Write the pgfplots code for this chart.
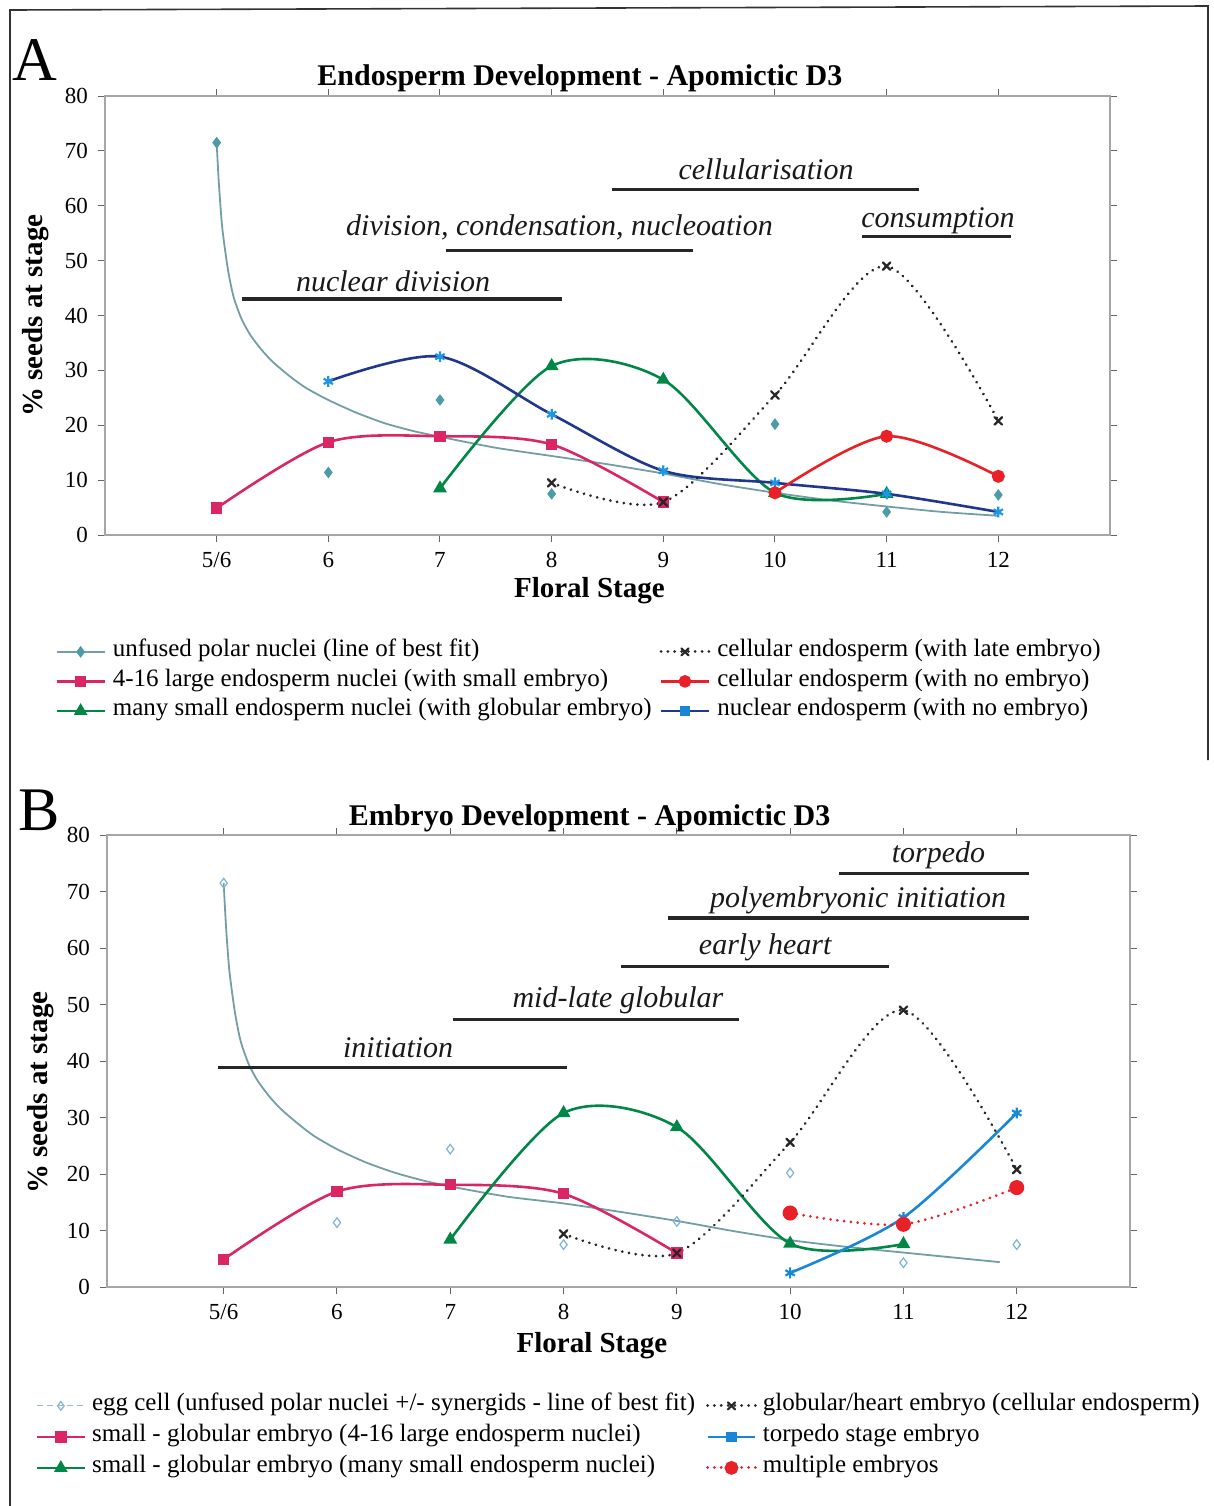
\documentclass[border=0pt]{standalone}
\usepackage{fontspec}
\setmainfont{Liberation Serif}
\usepackage{pgfplots}
\pgfplotsset{compat=1.18}
\usetikzlibrary{plotmarks}
\definecolor{fitc}{RGB}{115,158,165}
\definecolor{polarc}{RGB}{75,155,168}
\definecolor{eggc}{RGB}{125,180,215}
\definecolor{crim}{RGB}{218,38,100}
\definecolor{grn}{RGB}{0,135,70}
\definecolor{navy}{RGB}{32,55,140}
\definecolor{lblue}{RGB}{30,150,230}
\definecolor{redc}{RGB}{232,32,40}
\definecolor{torp}{RGB}{25,135,215}
\tikzset{
  dots/.style={line width=1.5pt, dash pattern=on 0.01pt off 3.4pt, line cap=round},
  anno/.style={font=\itshape\fontsize{15}{17}\selectfont, text=black!90, inner sep=0pt},
  bar/.style={line width=1.6pt, black!85},
}
\pgfplotsset{
  panel/.style={
    scale only axis, xmin=-1, xmax=8, ymin=0, ymax=80,
    xtick={0,...,7}, xticklabels={5/6,6,7,8,9,10,11,12},
    ytick={0,10,...,80},
    tick align=outside, major tick length=3.5pt,
    tick style={gray!80!black, line width=0.5pt},
    axis line style={gray!70, line width=0.7pt},
    ticklabel style={font=\fontsize{11.5}{12}\selectfont},
    /pgf/number format/assume math mode=true,
    xticklabel style={yshift=-1.8pt},
    yticklabel style={xshift=-1.5pt},
    clip=false,
    title style={font=\bfseries\fontsize{15}{17}\selectfont},
    xlabel style={font=\bfseries\fontsize{14.5}{16}\selectfont},
    ylabel style={font=\bfseries\fontsize{14.5}{16}\selectfont},
    legend cell align=left, legend columns=2,
    legend style={draw=none, fill=none, font=\fontsize{12.5}{14}\selectfont,
      nodes={inner sep=2pt, text height=0.7em, text depth=0.2em},
      inner xsep=3pt, inner ysep=2pt},
    legend image code/.code={\draw[mark repeat=2,mark phase=2] plot coordinates {(0cm,0cm) (0.42cm,0cm) (0.84cm,0cm)};},
  }
}
\begin{document}
\begin{tikzpicture}
\path[use as bounding box] (0,0) rectangle (607pt,-753pt);
\draw[line width=0.8pt, black!80] (5pt,-753pt) -- (5pt,-5pt) -- (604pt,-3pt) -- (604pt,-380pt);
\node[anchor=base west, inner sep=0, font=\fontsize{31}{31}\selectfont] at (6pt,-40pt) {A};
\node[anchor=base west, inner sep=0, font=\fontsize{31}{31}\selectfont] at (9pt,-415pt) {B};

% ---------------- Panel A ----------------
\begin{axis}[panel, width=502.5pt, height=219.5pt, at={(52.5pt,-267.5pt)}, anchor=south west,
  title={Endosperm Development - Apomictic D3},
  title style={at={(axis description cs:0.4726,0.9977)}, anchor=base},
  xlabel={Floral Stage}, xlabel style={at={(axis description cs:0.482,-0.1412)}, anchor=base},
  ylabel={\% seeds at stage}, ylabel style={at={(axis description cs:-0.0687,0.5)}, anchor=center},
  legend style={at={(-0.0557,-0.2266)}, anchor=north west, row sep=1.75pt,
    /tikz/every odd column/.append style={column sep=1.5pt},
    /tikz/every even column/.append style={column sep=2pt}}]
\addplot[fitc, line width=0.9pt, smooth, tension=0.4, forget plot] coordinates {
 (0,71.5)(0.02,64)(0.05,56)(0.1,48.5)(0.15,43.5)(0.22,39.5)(0.3,36.5)(0.4,33.8)(0.5,31.6)
 (0.65,29)(0.8,26.8)(1,24.6)(1.25,22.3)(1.5,20.4)(1.75,19)(2,17.9)(2.5,15.9)(3,14.4)(3.5,12.9)
 (4,11.2)(4.5,9.3)(5,7.7)(5.5,6.3)(6,5.2)(6.5,4.2)(7,3.5)};
\addplot[only marks, mark=diamond*, mark size=2.6pt, color=polarc, forget plot] coordinates {
 (0,71.5)(1,11.4)(2,24.6)(3,7.5)(5,20.2)(6,4.2)(7,7.3)};
\addplot[crim, line width=1.3pt, smooth, mark=square*, mark size=2.2pt, forget plot] coordinates {
 (0,4.9)(1,16.9)(2,18)(3,16.5)(4,6)};
\addplot[grn, line width=1.3pt, smooth, mark=triangle*, mark size=2.7pt, forget plot] coordinates {
 (2,8.5)(3,30.8)(4,28.3)(5,7.7)(6,7.5)};
\addplot[navy, line width=1.3pt, smooth, mark=asterisk, mark size=2.7pt, mark options={lblue, line width=1.1pt}, forget plot] coordinates {
 (1,28)(2,32.5)(3,22)(4,11.7)(5,9.5)(6,7.5)(7,4.2)};
\addplot[black!85, dots, smooth, mark=x, mark size=2.7pt, mark options={solid, line width=1.1pt}, forget plot] coordinates {
 (3,9.5)(4,6)(5,25.5)(6,49)(7,20.8)};
\addplot[redc, line width=1.3pt, smooth, mark=*, mark size=2.6pt, forget plot] coordinates {
 (5,7.7)(6,18)(7,10.7)};
% legend
\addlegendimage{fitc, line width=0.9pt, mark=diamond*, mark size=2.2pt, mark options={polarc}}
\addlegendentry{unfused polar nuclei (line of best fit)}
\addlegendimage{black!85, dots, mark=x, mark size=2.5pt, mark options={solid, line width=1.1pt}}
\addlegendentry{cellular endosperm (with late embryo)}
\addlegendimage{crim, line width=1.3pt, mark=square*, mark size=2.2pt}
\addlegendentry{4-16 large endosperm nuclei (with small embryo)}
\addlegendimage{redc, line width=1.3pt, mark=*, mark size=2.5pt}
\addlegendentry{cellular endosperm (with no embryo)}
\addlegendimage{grn, line width=1.3pt, mark=triangle*, mark size=2.6pt}
\addlegendentry{many small endosperm nuclei (with globular embryo)}
\addlegendimage{navy, line width=1.3pt, mark=square*, mark size=2pt, mark options={torp}}
\addlegendentry{nuclear endosperm (with no embryo)}
% annotations
\draw[bar] (axis cs:0.23,43) -- (axis cs:3.09,43);
\node[anno, anchor=base] at (axis cs:1.58,44.3) {nuclear division};
\draw[bar] (axis cs:2.05,51.9) -- (axis cs:4.27,51.9);
\node[anno, anchor=base] at (axis cs:3.07,54.5) {division, condensation, nucleoation};
\draw[bar] (axis cs:3.54,63) -- (axis cs:6.29,63);
\node[anno, anchor=base] at (axis cs:4.92,64.8) {cellularisation};
\draw[bar] (axis cs:5.78,54.4) -- (axis cs:7.11,54.4);
\node[anno, anchor=base] at (axis cs:6.46,56.1) {consumption};
\end{axis}

% ---------------- Panel B ----------------
\begin{axis}[panel, xmin=-1.03, width=511.5pt, height=226pt, at={(53.5pt,-643.5pt)}, anchor=south west,
  title={Embryo Development - Apomictic D3},
  title style={at={(axis description cs:0.4717,0.9956)}, anchor=base},
  xlabel={Floral Stage}, xlabel style={at={(axis description cs:0.474,-0.1438)}, anchor=base},
  ylabel={\% seeds at stage}, ylabel style={at={(axis description cs:-0.065,0.43)}, anchor=center},
  legend style={at={(-0.076,-0.2245)}, anchor=north west, row sep=2.5pt,
    /tikz/every odd column/.append style={column sep=1pt},
    /tikz/every even column/.append style={column sep=3.5pt}}]
\addplot[fitc, line width=0.9pt, smooth, tension=0.4, forget plot] coordinates {
 (0,71.5)(0.02,64)(0.05,56)(0.1,48.5)(0.15,43.5)(0.22,39.5)(0.3,36.5)(0.4,33.8)(0.5,31.6)
 (0.65,29)(0.8,26.7)(1,24.4)(1.25,22.1)(1.5,20.3)(1.75,18.9)(2,17.8)(2.5,16)(3,14.8)(3.5,13.3)
 (4,11.7)(4.5,9.9)(5,8.3)(5.5,7.1)(6,6.1)(6.5,5.1)(6.85,4.4)};
\addplot[only marks, mark=diamond, mark size=2.4pt, mark options={eggc, line width=0.6pt}, forget plot] coordinates {
 (0,71.5)(1,11.4)(2,24.4)(3,7.5)(4,11.6)(5,20.2)(6,4.3)(7,7.5)};
\addplot[crim, line width=1.3pt, smooth, mark=square*, mark size=2.2pt, forget plot] coordinates {
 (0,4.9)(1,16.9)(2,18.1)(3,16.5)(4,6)};
\addplot[grn, line width=1.3pt, smooth, mark=triangle*, mark size=2.7pt, forget plot] coordinates {
 (2,8.4)(3,30.8)(4,28.3)(5,7.7)(6,7.6)};
\addplot[black!85, dots, smooth, mark=x, mark size=2.7pt, mark options={solid, line width=1.1pt}, forget plot] coordinates {
 (3,9.4)(4,6)(5,25.6)(6,49)(7,20.8)};
\addplot[torp, line width=1.3pt, smooth, mark=asterisk, mark size=2.7pt, mark options={line width=1.1pt}, forget plot] coordinates {
 (5,2.5)(6,12.3)(7,30.8)};
\addplot[redc, dots, smooth, mark=*, mark size=3pt, mark options={solid}, forget plot] coordinates {
 (5,13.1)(6,11.1)(7,17.6)};
% legend
\addlegendimage{fitc!70, line width=0.6pt, densely dashed, mark=diamond, mark size=2.2pt, mark options={solid, eggc}}
\addlegendentry{egg cell (unfused polar nuclei +/- synergids - line of best fit)}
\addlegendimage{black!85, dots, mark=x, mark size=2.5pt, mark options={solid, line width=1.1pt}}
\addlegendentry{globular/heart embryo (cellular endosperm)}
\addlegendimage{crim, line width=1.3pt, mark=square*, mark size=2.2pt}
\addlegendentry{small - globular embryo (4-16 large endosperm nuclei)}
\addlegendimage{torp, line width=1.3pt, mark=square*, mark size=2pt}
\addlegendentry{torpedo stage embryo}
\addlegendimage{grn, line width=1.3pt, mark=triangle*, mark size=2.6pt}
\addlegendentry{small - globular embryo (many small endosperm nuclei)}
\addlegendimage{redc, dots, mark=*, mark size=2.7pt, mark options={solid}}
\addlegendentry{multiple embryos}
% annotations
\draw[bar] (axis cs:5.43,73.2) -- (axis cs:7.11,73.2);
\node[anno, anchor=base] at (axis cs:6.31,75.1) {torpedo};
\draw[bar] (axis cs:3.92,65.3) -- (axis cs:7.11,65.3);
\node[anno, anchor=base] at (axis cs:5.60,67.1) {polyembryonic initiation};
\draw[bar] (axis cs:3.51,56.8) -- (axis cs:5.87,56.8);
\node[anno, anchor=base] at (axis cs:4.78,58.8) {early heart};
\draw[bar] (axis cs:2.02,47.3) -- (axis cs:4.55,47.3);
\node[anno, anchor=base] at (axis cs:3.48,49.4) {mid-late globular};
\draw[bar] (axis cs:-0.05,38.8) -- (axis cs:3.03,38.8);
\node[anno, anchor=base] at (axis cs:1.54,40.7) {initiation};
\end{axis}
\end{tikzpicture}
\end{document}
